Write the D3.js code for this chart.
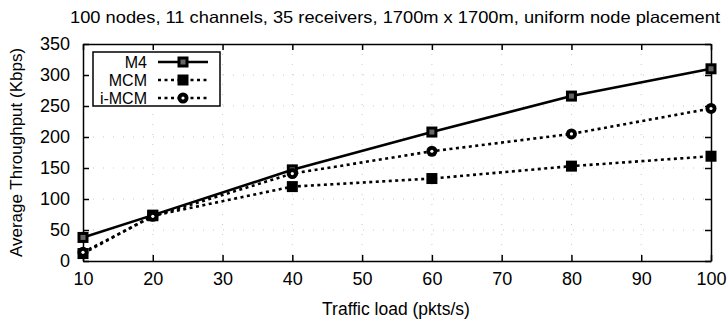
<!DOCTYPE html>
<html>
<head>
<meta charset="utf-8">
<script src="https://cdn.jsdelivr.net/npm/d3@7"></script>
<style>
  body { margin: 0; background: #fff; }
  text { font-family: "Liberation Sans", Arial, sans-serif; fill: #000; }
</style>
</head>
<body>
<div id="chart"></div>
<script>
// traffic load values (pkts/s)
var loads = [10, 20, 40, 60, 80, 100];

// average throughput (Kbps)
var m4   = [38, 74, 147, 208, 266, 310];
var mcm  = [12, 73, 120, 133, 153, 169];
var imcm = [14, 72, 141, 177, 205, 246];

var xTicks = [10, 20, 30, 40, 50, 60, 70, 80, 90, 100];
var yTicks = [0, 50, 100, 150, 200, 250, 300, 350];

var series = [
  {name: "M4",    values: m4,   dash: null,  shape: "square", width: 2.6},
  {name: "MCM",   values: mcm,  dash: "3,3.5", shape: "fsquare", width: 2.6},
  {name: "i-MCM", values: imcm, dash: "3,3.5", shape: "circle", width: 2.6}
];

var W = 728, H = 324;
var margin = {top: 44, right: 17, bottom: 63, left: 83},
    width  = W - margin.left - margin.right,
    height = H - margin.top - margin.bottom;

var x = d3.scaleLinear().domain([10, 100]).range([0, width]);
var y = d3.scaleLinear().domain([0, 350]).range([height, 0]);

var svg = d3.select("#chart").append("svg")
    .attr("width", W)
    .attr("height", H);

svg.append("text")
    .attr("x", 70)
    .attr("y", 23)
    .attr("textLength", 650)
    .attr("lengthAdjust", "spacingAndGlyphs")
    .style("font-size", "16.5px")
    .text("100 nodes, 11 channels, 35 receivers, 1700m x 1700m, uniform node placement");

var g = svg.append("g")
    .attr("transform", "translate(" + margin.left + "," + margin.top + ")");

//faint dotted grid like the original plot
g.selectAll(".gx").data(xTicks.slice(1, -1)).enter().append("line")
    .attr("x1", function(d) { return x(d); }).attr("x2", function(d) { return x(d); })
    .attr("y1", 0).attr("y2", height)
    .attr("stroke", "#bbb").attr("stroke-width", 0.8)
    .attr("stroke-dasharray", "1,9");
g.selectAll(".gy").data(yTicks.slice(1, -1)).enter().append("line")
    .attr("y1", function(d) { return y(d); }).attr("y2", function(d) { return y(d); })
    .attr("x1", 0).attr("x2", width)
    .attr("stroke", "#bbb").attr("stroke-width", 0.8)
    .attr("stroke-dasharray", "1,9");

//axes with inward ticks, mirrored on top and right
var tickLen = 6;
var ax = g.append("g").attr("transform", "translate(0," + height + ")")
    .call(d3.axisBottom(x).tickValues(xTicks).tickSizeInner(-tickLen).tickSizeOuter(0).tickPadding(14));
var ay = g.append("g")
    .call(d3.axisLeft(y).tickValues(yTicks).tickSizeInner(-tickLen).tickSizeOuter(0).tickPadding(13));
g.append("g")
    .call(d3.axisTop(x).tickValues(xTicks).tickSizeInner(-tickLen).tickSizeOuter(0).tickFormat(""));
g.append("g").attr("transform", "translate(" + width + ",0)")
    .call(d3.axisRight(y).tickValues(yTicks).tickSizeInner(-tickLen).tickSizeOuter(0).tickFormat(""));

g.selectAll(".domain").attr("stroke", "#000").attr("stroke-width", 1.5);
g.selectAll(".tick line").attr("stroke", "#000").attr("stroke-width", 1.5);
ax.selectAll("text").style("font-size", "18px").attr("dy", "0.55em");
ay.selectAll("text").style("font-size", "18px");

//axis titles
svg.append("text")
    .attr("x", 396)
    .attr("y", 315)
    .attr("text-anchor", "middle")
    .style("font-size", "17.5px")
    .text("Traffic load (pkts/s)");

svg.append("text")
    .attr("transform", "translate(22," + (margin.top + height / 2) + ") rotate(-90)")
    .attr("text-anchor", "middle")
    .style("font-size", "17px")
    .text("Average Throughput (Kbps)");

function drawMarker(sel, shape, cx, cy) {
  if (shape === "circle") {
    sel.append("circle").attr("cx", cx).attr("cy", cy).attr("r", 5.5)
        .attr("fill", "#000");
    sel.append("circle").attr("cx", cx).attr("cy", cy).attr("r", 1.6)
        .attr("fill", "#fff");
  } else {
    sel.append("rect").attr("x", cx - 5.5).attr("y", cy - 5.5)
        .attr("width", 11).attr("height", 11).attr("fill", "#000");
    if (shape === "square") {
      sel.append("rect").attr("x", cx - 2.5).attr("y", cy - 2.5)
          .attr("width", 5).attr("height", 5).attr("fill", "#666");
    }
  }
}

var line = d3.line()
    .x(function(d, i) { return x(loads[i]); })
    .y(function(d) { return y(d); });

series.forEach(function(s) {
  g.append("path")
    .datum(s.values)
    .attr("fill", "none")
    .attr("stroke", "#000")
    .attr("stroke-width", s.width)
    .attr("stroke-dasharray", s.dash)
    .attr("d", line);
});

series.forEach(function(s) {
  var mg = g.append("g");
  s.values.forEach(function(v, i) {
    drawMarker(mg, s.shape, x(loads[i]), y(v));
  });
});

//legend box in the top-left corner
var leg = svg.append("g").attr("transform", "translate(93,52)");
leg.append("rect")
    .attr("width", 127).attr("height", 54)
    .attr("fill", "#fff").attr("stroke", "#000").attr("stroke-width", 1.5);

series.forEach(function(s, i) {
  var ly = 10 + i * 18;
  leg.append("text")
      .attr("x", 54).attr("y", ly)
      .attr("dy", "0.36em")
      .attr("text-anchor", "end")
      .style("font-size", "16px")
      .text(s.name);
  leg.append("line")
      .attr("x1", 65).attr("x2", 115)
      .attr("y1", ly).attr("y2", ly)
      .attr("stroke", "#000")
      .attr("stroke-width", s.width)
      .attr("stroke-dasharray", s.dash);
  drawMarker(leg, s.shape, 90, ly);
});
</script>
</body>
</html>
